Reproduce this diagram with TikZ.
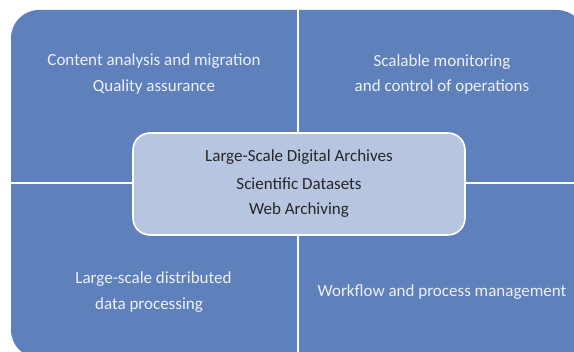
\documentclass[tikz,border=0pt]{standalone}
\usepackage{fontspec}
\setmainfont{Carlito}
\definecolor{quadblue}{HTML}{5E80BB}
\definecolor{centerblue}{HTML}{B7C5E1}
\definecolor{quadtext}{HTML}{EEF1F7}
\definecolor{centertext}{HTML}{262626}
\begin{document}
\begin{tikzpicture}[x=1pt,y=-1pt,
  quadlabel/.style={text=quadtext,font=\fontsize{17}{26}\selectfont,align=center,inner sep=0pt},
  centerlabel/.style={text=centertext,font=\fontsize{17}{26.5}\selectfont,align=center,inner sep=0pt},
  divider/.style={draw=white,line width=2pt}]
\useasboundingbox (0,0) rectangle (574,352);
\fill[white] (0,0) rectangle (574,352);
\fill[quadblue,rounded corners=28pt] (11,10) rectangle (585,358);
\coordinate (vtop) at (298,10);
\coordinate (vbot) at (298,358);
\coordinate (hleft) at (11,183.5);
\coordinate (hright) at (585,183.5);
\draw[divider] (vtop) -- (vbot);
\draw[divider] (hleft) -- (hright);
\node[draw=white,line width=1.6pt,fill=centerblue,rounded corners=17pt,minimum width=332pt,minimum height=102pt,inner sep=0pt] (center) at (299,184) {};
\node[centerlabel] (c1) at (299,157) {Large-Scale Digital Archives};
\node[centerlabel] (c2) at (299,184) {Scientific Datasets};
\node[centerlabel] (c3) at (299,210) {Web Archiving};
\node[quadlabel] (tl1) at (154,61) {Content analysis and migration};
\node[quadlabel] (tl2) at (154,87) {Quality assurance};
\node[quadlabel] (tr1) at (442,62) {Scalable monitoring};
\node[quadlabel] (tr2) at (442,87) {and control of operations};
\node[quadlabel] (bl1) at (153.5,279) {Large-scale distributed};
\node[quadlabel] (bl2) at (149,305) {data processing};
\node[quadlabel] (br) at (442,292) {Workflow and process management};
\end{tikzpicture}
\end{document}
